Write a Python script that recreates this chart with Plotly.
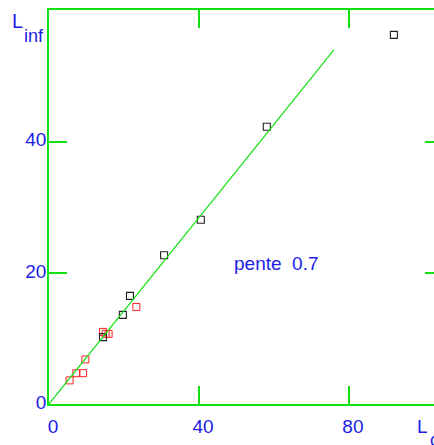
import plotly.graph_objects as go

# values
black_x = [92.0, 58.1, 40.5, 30.7, 21.6, 19.7, 14.4]
black_y = [56.3, 42.3, 28.1, 22.7, 16.5, 13.6, 10.2]
red_x = [14.4, 15.1, 15.9, 23.3, 9.7, 9.1, 7.3, 5.5]
red_y = [11.0, 10.7, 10.7, 14.8, 6.8, 4.7, 4.7, 3.6]
fit_x = [0, 76]
fit_y = [0, 54]
x_ticks = [0, 40, 80]
y_ticks = [0, 20, 40]
x_tick_labels = ['0', '40', '80']
y_tick_labels = ['0', '20', '40']

GREEN = '#11e011'
BLUE = '#1c1ce6'
FONT = 'Liberation Sans, Arial, sans-serif'

W, H = 434, 445
L, R, T, B = 49, 0, 10, 41
pw = W - L - R
ph = H - T - B


def px_x(p):
    return (p - L) / pw


def px_y(p):
    return (H - B - p) / ph


fig = go.Figure()
# fit line sits on y2 so the right-hand ticks get drawn (same range as y)
fig.add_trace(go.Scatter(x=fit_x, y=fit_y, mode='lines', yaxis='y2',
                         line=dict(color=GREEN, width=1.2), showlegend=False))
fig.add_trace(go.Scatter(x=red_x, y=red_y, mode='markers', showlegend=False,
                         marker=dict(symbol='square-open', size=7, color='#ff2020',
                                     line=dict(width=1))))
fig.add_trace(go.Scatter(x=black_x, y=black_y, mode='markers', showlegend=False,
                         marker=dict(symbol='square-open', size=7, color='#222222',
                                     line=dict(width=1.1))))

fig.add_annotation(x=48.8, y=21.5, xref='x', yref='y', text='pente  0.7',
                   showarrow=False, xanchor='left', yanchor='middle',
                   font=dict(size=19, color=BLUE, family=FONT))

# axis titles: main letter plus subscript
labels = [('L', 10, 21.5, 20), ('inf', 22, 35.6, 18),
          ('L', 415, 426, 19), ('c', 428, 439.6, 18)]
for txt, lx, ly, fs in labels:
    fig.add_annotation(x=px_x(lx), y=px_y(ly), xref='paper', yref='paper',
                       text=txt, showarrow=False, xanchor='left', yanchor='middle',
                       font=dict(size=fs, color=BLUE, family=FONT))

fig.update_layout(
    width=W, height=H,
    margin=dict(l=L, r=R, t=T, b=B, autoexpand=False),
    plot_bgcolor='white', paper_bgcolor='white',
    font=dict(family=FONT, size=19, color=BLUE),
    xaxis=dict(range=[0, 102.7], showgrid=False, zeroline=False, automargin=False,
               showline=True, linecolor=GREEN, linewidth=1.5, mirror='ticks',
               ticks='inside', ticklen=18, tickcolor=GREEN, tickwidth=1.5,
               tickvals=x_ticks, ticktext=x_tick_labels,
               ticklabelstandoff=4, ticklabelshift=4),
    yaxis=dict(range=[0, 60.1], showgrid=False, zeroline=False, automargin=False,
               showline=True, linecolor=GREEN, linewidth=1.5,
               ticks='inside', ticklen=18, tickcolor=GREEN, tickwidth=1.5,
               tickvals=y_ticks, ticktext=y_tick_labels,
               ticklabelstandoff=-3, ticklabelshift=-2),
    yaxis2=dict(range=[0, 60.1], overlaying='y', side='right', showgrid=False,
                zeroline=False, showline=False, showticklabels=False, automargin=False,
                ticks='inside', ticklen=9, tickcolor=GREEN, tickwidth=1.5,
                tickvals=y_ticks),
)

# the page's default body margin would push the figure 8px off
fig.write_html("out.html", config={'displayModeBar': False},
               post_script="document.body.style.margin='0px';")
